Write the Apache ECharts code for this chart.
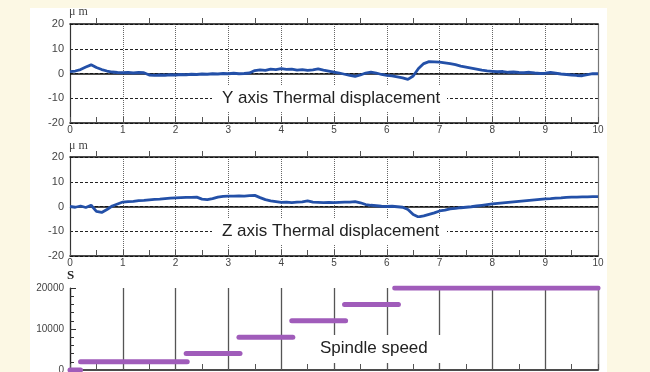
<!DOCTYPE html>
<html>
<head>
<meta charset="UTF-8" />
<title>Thermal displacement</title>
<style>
  html, body { margin: 0; padding: 0; background: #fcf8e4; }
  #chart { width: 650px; height: 372px; }
</style>
</head>
<body>
<div id="chart"></div>
<script src="https://cdn.jsdelivr.net/npm/echarts@6/dist/echarts.min.js"></script>
<script>
// time axis (h), sampled every 0.1
const timeStep = 0.1;
const xTicks = ['0', '1', '2', '3', '4', '5', '6', '7', '8', '9', '10'];

// Y axis thermal displacement (µm)
const yDisp = [0.8, 1.0, 1.6, 2.6, 3.5, 2.4, 1.6, 1.0, 0.6, 0.4,
  0.3, 0.4, 0.2, 0.4, 0.3, -0.6, -0.8, -0.6, -0.7, -0.5,
  -0.6, -0.4, -0.5, -0.3, -0.4, -0.2, -0.3, -0.1, -0.2, 0.0,
  -0.1, 0.1, -0.1, 0.0, 0.2, 1.2, 1.5, 1.3, 1.8, 1.6,
  2.0, 1.7, 1.8, 1.4, 1.6, 1.3, 1.5, 1.9, 1.4, 1.0,
  0.6, 0.2, -0.3, -0.8, -1.2, -0.6, 0.2, 0.6, 0.2, -0.4,
  -0.8, -1.0, -1.4, -1.8, -2.4, -1.0, 2.0, 4.0, 4.8, 4.7,
  4.6, 4.3, 4.0, 3.6, 3.0, 2.6, 2.2, 1.8, 1.4, 1.1,
  0.9, 0.7, 0.8, 0.5, 0.6, 0.4, 0.3, 0.5, 0.2, 0.0,
  0.1, 0.4, 0.1, -0.2, -0.4, -0.6, -0.8, -0.9, -0.5, -0.1,
  -0.1];

// Z axis thermal displacement (µm)
const zDisp = [0.0, -0.3, 0.2, -0.4, 0.5, -2.0, -2.4, -1.2, 0.2, 1.0,
  1.8, 2.0, 2.1, 2.4, 2.5, 2.7, 2.9, 3.0, 3.2, 3.4,
  3.5, 3.6, 3.7, 3.7, 3.8, 3.0, 2.8, 3.2, 3.8, 4.1,
  4.2, 4.2, 4.3, 4.2, 4.4, 4.5, 3.6, 2.8, 2.3, 2.0,
  1.7, 1.8, 1.6, 1.8, 1.9, 2.3, 1.8, 1.7, 1.6, 1.7,
  1.6, 1.7, 1.8, 1.8, 2.0, 1.5, 0.8, 0.5, 0.3, 0.1,
  0.0, 0.1, -0.1, -0.3, -1.2, -3.2, -4.2, -3.8, -3.2, -2.6,
  -1.8, -1.5, -1.0, -0.8, -0.5, -0.3, -0.1, 0.2, 0.5, 0.8,
  1.1, 1.3, 1.5, 1.7, 1.9, 2.1, 2.3, 2.5, 2.7, 2.9,
  3.1, 3.2, 3.4, 3.5, 3.7, 3.8, 3.8, 3.9, 3.9, 4.0,
  4.0];

// spindle speed steps (min^-1)
const speedStart = [0, 0.2, 2.2, 3.2, 4.2, 5.2, 6.15];
const speedEnd = [0.2, 2.22, 3.22, 4.22, 5.22, 6.22, 10];
const speedRpm = [0, 2000, 4000, 8000, 12000, 16000, 20000];

const yTicksDisp = ['-20', '-10', '0', '10', '20'];
const yTicksSpeed = ['0', '10000', '20000'];

const chart = echarts.init(document.getElementById('chart'));

const labelFont = { color: '#444', fontSize: 10, fontFamily: 'Liberation Sans, Arial, sans-serif' };
const toPairs = arr => arr.map((v, i) => [+(i * timeStep).toFixed(1), v]);

const grids = [
  { left: 70, width: 528, top: 24, height: 99, containLabel: false, outerBoundsMode: 'none' },
  { left: 70, width: 528, top: 157, height: 99, containLabel: false, outerBoundsMode: 'none' },
  { left: 70, width: 528, top: 288, height: 82, containLabel: false, outerBoundsMode: 'none' }
];

function bottomX(gi, dotted) {
  return {
    type: 'value', gridIndex: gi, position: 'bottom', min: 0, max: 10, interval: 1,
    axisLine: { show: true, onZero: false, lineStyle: { color: '#111', width: 1.5 } },
    axisTick: { show: true, inside: true, length: 6, lineStyle: { color: '#555' } },
    minorTick: { show: true, splitNumber: 2, length: 6, lineStyle: { color: '#555' } },
    axisLabel: Object.assign({ margin: 2, formatter: v => xTicks[Math.round(v)] }, labelFont),
    splitLine: dotted
      ? { show: true, lineStyle: { color: '#666', type: [1, 1], width: 1 } }
      : { show: true, lineStyle: { color: '#555', width: 1.3 } }
  };
}
function topX(gi) {
  return {
    type: 'value', gridIndex: gi, position: 'top', min: 0, max: 10, interval: 1,
    axisLine: { show: true, onZero: false, lineStyle: { color: '#111', width: 1.5 } },
    axisTick: { show: false },
    minorTick: { show: true, splitNumber: 2, length: 6, lineStyle: { color: '#555' } },
    axisLabel: { show: false }, splitLine: { show: false }
  };
}
function leftDisp(gi) {
  return {
    type: 'value', gridIndex: gi, min: -20, max: 20, interval: 10,
    axisLine: { show: true, onZero: false, lineStyle: { color: '#333', width: 1.2 } },
    axisTick: { show: false },
    axisLabel: Object.assign({ margin: 6,
      formatter: v => yTicksDisp[Math.round((v + 20) / 10)] }, labelFont, { fontSize: 11 }),
    splitLine: { show: true, lineStyle: { color: '#222', type: [3, 2], width: 1 } }
  };
}
function rightBorder(gi) {
  return {
    type: 'value', gridIndex: gi, position: 'right', min: 0, max: 1,
    axisLine: { show: true, onZero: false, lineStyle: { color: '#777', width: 1.2 } },
    axisTick: { show: false }, axisLabel: { show: false }, splitLine: { show: false }
  };
}

const speedSeries = speedRpm.map((v, i) => ({
  type: 'line', xAxisIndex: 4, yAxisIndex: 4, symbol: 'none', silent: true, z: 4,
  lineStyle: { color: '#a05cba', width: 5, cap: 'round' },
  data: [[speedStart[i], v], [speedEnd[i], v]]
}));

const zeroLine = (xi, yi) => ({
  type: 'line', xAxisIndex: xi, yAxisIndex: yi, data: [], z: 1, silent: true,
  markLine: {
    silent: true, symbol: 'none', label: { show: false },
    lineStyle: { color: '#111', type: 'solid', width: 1.6 },
    data: [{ yAxis: 0 }]
  }
});

function textBox(x, y, w, h, tx, ty, text) {
  return [
    { type: 'rect', z: 100, shape: { x: x, y: y, width: w, height: h }, style: { fill: '#fff' } },
    { type: 'text', z: 101, x: tx, y: ty,
      style: { text: text, fill: '#222', font: '17px "Liberation Sans", Arial, sans-serif', verticalAlign: 'middle' } }
  ];
}

chart.setOption({
  animation: false,
  backgroundColor: '#fcf8e4',
  grid: grids,
  xAxis: [bottomX(0, true), topX(0), bottomX(1, true), topX(1), bottomX(2, false)],
  yAxis: [
    leftDisp(0), rightBorder(0), leftDisp(1), rightBorder(1),
    {
      type: 'value', gridIndex: 2, min: 0, max: 20000, interval: 10000,
      axisLine: { show: true, onZero: false, lineStyle: { color: '#222', width: 1.2 } },
      axisTick: { show: true, inside: true, length: 6, lineStyle: { color: '#333' } },
      minorTick: { show: true, splitNumber: 5, length: 4, lineStyle: { color: '#333' } },
      axisLabel: Object.assign({ margin: 6, formatter: v => yTicksSpeed[Math.round(v / 10000)] }, labelFont),
      splitLine: { show: false }
    },
    rightBorder(2)
  ],
  graphic: [
    { type: 'rect', z: -10, shape: { x: 30, y: 8, width: 577, height: 364 }, style: { fill: '#fff' } },
    { type: 'text', z: 50, x: 69, y: 12, style: { text: 'μ m', fill: '#444', font: '12px "Liberation Serif", serif', verticalAlign: 'middle' } },
    { type: 'text', z: 50, x: 69, y: 146, style: { text: 'μ m', fill: '#444', font: '12px "Liberation Serif", serif', verticalAlign: 'middle' } },
    { type: 'text', z: 50, x: 67, y: 276, style: { text: 'S', fill: '#222', font: 'bold 13px "Liberation Serif", serif', verticalAlign: 'middle' } },
    ...textBox(212, 85, 235, 27, 222, 98, 'Y axis Thermal displacement'),
    ...textBox(212, 218, 235, 27, 222, 231, 'Z axis Thermal displacement'),
    ...textBox(310, 335, 137, 28, 320, 348, 'Spindle speed')
  ],
  series: [
    zeroLine(0, 0),
    zeroLine(2, 2),
    {
      type: 'line', xAxisIndex: 0, yAxisIndex: 0, symbol: 'none', z: 5,
      lineStyle: { color: '#2350a8', width: 2.8 }, data: toPairs(yDisp)
    },
    {
      type: 'line', xAxisIndex: 2, yAxisIndex: 2, symbol: 'none', z: 5,
      lineStyle: { color: '#2350a8', width: 2.8 }, data: toPairs(zDisp)
    },
    ...speedSeries
  ]
});
</script>
</body>
</html>
